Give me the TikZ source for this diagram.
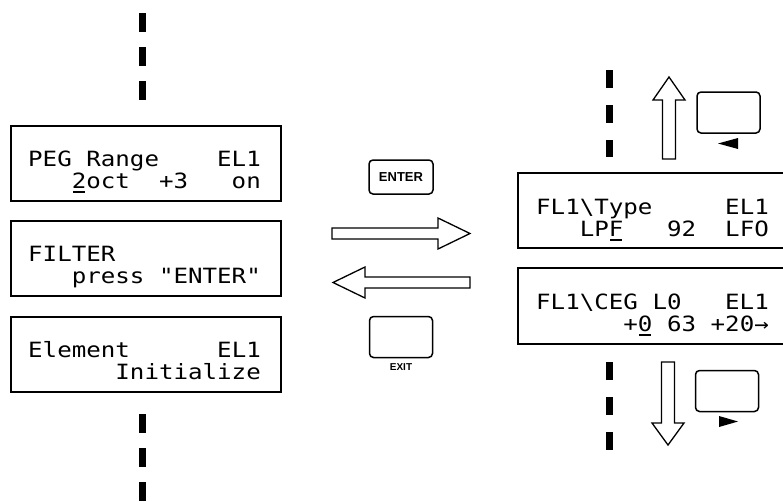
\documentclass[tikz,border=0pt]{standalone}
\usepackage{fontspec}
\newfontfamily\lcdfont[FakeStretch=1.15]{DejaVu Sans Mono}
\newfontfamily\keyfont{Liberation Sans}
\newcommand\lcdcursor[1]{\makebox[0pt][l]{\hspace{1.2pt}\rule[-4.5pt]{12pt}{2pt}}#1}
\begin{document}
\begin{tikzpicture}[x=1pt,y=-1pt,
  lcd/.style={font=\lcdfont\fontsize{21}{24}\selectfont, anchor=base west, inner sep=0pt},
  frame/.style={draw=black, line width=1.6pt},
  lcdbox/.style={frame, minimum width=270pt, minimum height=75pt, anchor=north west, inner sep=0pt},
  dashline/.style={line width=7pt, dash pattern=on 19pt off 15pt},
  dashlineR/.style={line width=7pt, dash pattern=on 17.5pt off 17.5pt},
  hollow/.style={draw=black, line width=1.3pt, fill=white, line join=miter},
  keybox/.style={draw=black, line width=1.5pt, rounded corners=4pt, inner sep=0pt},
  keylabel/.style={font=\keyfont\bfseries\fontsize{13}{15}\selectfont, inner sep=0pt},
  smalllabel/.style={font=\keyfont\bfseries\fontsize{10}{12}\selectfont, inner sep=0pt}]
\useasboundingbox (0,0) rectangle (783,501);

% left display boxes
\node[lcdbox] (b1) at (10,125) {};
\node[lcdbox] (b2) at (10,220) {};
\node[lcdbox] (b3) at (10,316) {};
\node[lcd] (b1l1) at (28,166) {PEG~Range~~~~EL1};
\node[lcd] (b1l2) at (28,188) {~~~\lcdcursor{2}oct~~+3~~~on};
\node[lcd] (b2l1) at (28,261) {FILTER};
\node[lcd] (b2l2) at (28,283) {~~~press~"ENTER"};
\node[lcd] (b3l1) at (28,357) {Element~~~~~~EL1};
\node[lcd] (b3l2) at (28,379) {~~~~~~Initialize};

% left dashed line
\coordinate (lt1) at (142,13);  \coordinate (lt2) at (142,100);
\coordinate (lb1) at (142,414); \coordinate (lb2) at (142,501);
\draw[dashline] (lt1) -- (lt2);
\draw[dashline] (lb1) -- (lb2);

% right display boxes (cut at the right edge)
\coordinate (r1a) at (783,173); \coordinate (r1b) at (518,173);
\coordinate (r1c) at (518,248); \coordinate (r1d) at (783,248);
\coordinate (r2a) at (783,268); \coordinate (r2b) at (518,268);
\coordinate (r2c) at (518,344); \coordinate (r2d) at (783,344);
\draw[frame] (r1a) -- (r1b) -- (r1c) -- (r1d);
\draw[frame] (r2a) -- (r2b) -- (r2c) -- (r2d);
\node[lcd] (r1l1) at (536,214) {FL1\textbackslash{}Type~~~~~EL1};
\node[lcd] (r1l2) at (536,236) {~~~LP\lcdcursor{F}~~~92~~LFO};
\node[lcd] (r2l1) at (536,309) {FL1\textbackslash{}CEG~L0~~~EL1};
\node[lcd] (r2l2) at (536,331) {~~~~~~+\lcdcursor{0}~63~+20→};

% right dashed line
\coordinate (rt1) at (609,70);  \coordinate (rt2) at (609,157);
\coordinate (rb1) at (609,362); \coordinate (rb2) at (609,450);
\draw[dashlineR] (rt1) -- (rt2);
\draw[dashlineR] (rb1) -- (rb2);

% ENTER / EXIT keys
\node[keybox, minimum width=64pt, minimum height=34pt] (enter) at (401,177) {};
\node[keylabel] (enterlbl) at (enter) {ENTER};
\node[keybox, minimum width=63pt, minimum height=41pt] (exit) at (401,337) {};
\node[smalllabel, anchor=north] (exitlbl) at ([yshift=-5pt]exit.south) {EXIT};

% hollow horizontal arrows
\draw[hollow] (332,228) -- (438,228) -- (438,218) -- (470,233.5) -- (438,249) -- (438,239) -- (332,239) -- cycle;
\draw[hollow] (470,277) -- (365,277) -- (365,267) -- (333,282.5) -- (365,298) -- (365,288) -- (470,288) -- cycle;

% hollow vertical arrows
\draw[hollow] (662.5,159) -- (662.5,100) -- (653,100) -- (669,77) -- (685,100) -- (675.5,100) -- (675.5,159) -- cycle;
\draw[hollow] (661.5,362) -- (661.5,423) -- (652,423) -- (668,445) -- (684,423) -- (674.5,423) -- (674.5,362) -- cycle;

% up / down keys with triangles
\node[keybox, minimum width=63pt, minimum height=41pt] (upkey) at (728.5,112.5) {};
\node[keybox, minimum width=63pt, minimum height=41pt] (downkey) at (727,391) {};
\fill (718,143.5) -- (738,138) -- (738,149) -- cycle;
\fill (738,421.5) -- (719,416) -- (719,427) -- cycle;
\end{tikzpicture}
\end{document}
